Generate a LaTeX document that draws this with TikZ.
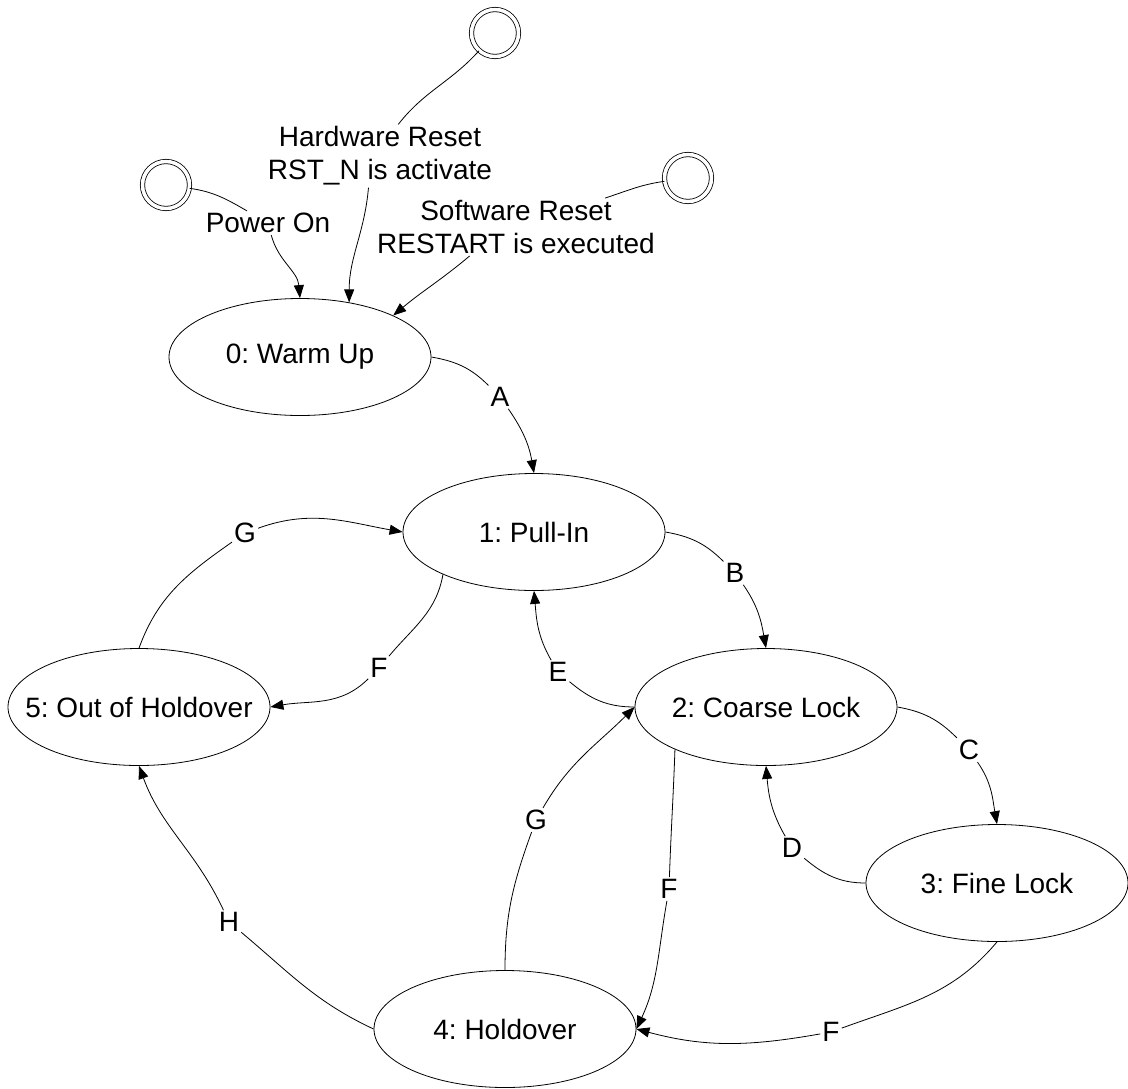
\documentclass[tikz,border=0pt]{standalone}
\usepackage{fontspec}
\setmainfont{Liberation Sans}
\frenchspacing
\usetikzlibrary{shapes.geometric,arrows.meta}
\tikzset{
    stnode/.style={ellipse, draw, line width=0.8pt, minimum width=262pt, minimum height=117pt, inner xsep=-30pt, inner ysep=0pt},
    src/.style={circle, draw, double, double distance=3.5pt, line width=0.8pt, minimum size=47pt, inner sep=0pt},
    lbl/.style={inner sep=2pt, align=center},
    tr/.style={line width=0.8pt},
    trarr/.style={tr, -{Triangle[length=13pt,width=10pt]}}
}

\begin{document}
\begin{tikzpicture}[x=1pt, y=1pt, every node/.append style={font=\fontsize{28}{33}\selectfont}]
    \useasboundingbox (0,0) rectangle (1128,-1088);
    \node[stnode] (warm) at (300,-357) {0: Warm Up};
    \node[stnode] (pull) at (534,-532) {1: Pull-In};
    \node[stnode] (coarse) at (766,-707) {2: Coarse Lock};
    \node[stnode] (fine) at (997,-883) {3: Fine Lock};
    \node[stnode] (hold) at (505,-1029) {4: Holdover};
    \node[stnode] (ooh) at (139,-707) {5: Out of Holdover};
    \node[src] (pwr) at (166,-185) {};
    \node[src] (hwr) at (495,-33) {};
    \node[src] (swr) at (688,-178) {};

    \node[lbl] (lpwr) at (268,-223) {Power On};
    \node[lbl] (lhwr) at (380,-156) {Hardware Reset\\RST\_N is activate};
    \node[lbl] (lswr) at (516,-227) {Software Reset\\RESTART is executed};
    \node[lbl] (lA) at (500,-397) {A};
    \node[lbl] (lB) at (735,-573) {B};
    \node[lbl] (lC) at (969,-750) {C};
    \node[lbl] (lD) at (792,-848) {D};
    \node[lbl] (lE) at (558,-672) {E};
    \node[lbl] (lF1) at (379,-668) {F};
    \node[lbl] (lG1) at (245,-533) {G};
    \node[lbl] (lG2) at (536,-820) {G};
    \node[lbl] (lF2) at (669,-889) {F};
    \node[lbl] (lF3) at (831,-1032) {F};
    \node[lbl] (lH) at (229,-922) {H};

    \draw[tr] (pwr) to[out=-8,in=150] (lpwr);
    \draw[trarr] (lpwr) to[out=-75,in=95] (warm.north);
    \draw[tr] (hwr) to[out=-132,in=52] (lhwr.60);
    \draw[trarr] (lhwr.-110) to[out=-95,in=90] (warm.48);
    \draw[tr] (swr) to[out=188,in=18] (lswr);
    \draw[trarr] (lswr.212) to[out=-140,in=40] (warm.24);

    \draw[tr] (warm.east) to[out=-10,in=135] (lA);
    \draw[trarr] (lA) to[out=-55,in=100] (pull.north);
    \draw[tr] (pull.east) to[out=-10,in=135] (lB);
    \draw[trarr] (lB) to[out=-55,in=100] (coarse.north);
    \draw[tr] (coarse.east) to[out=-10,in=135] (lC);
    \draw[trarr] (lC) to[out=-55,in=100] (fine.north);
    \draw[tr] (fine.west) to[out=180,in=-40] (lD);
    \draw[trarr] (lD) to[out=120,in=-85] (coarse.south);
    \draw[tr] (coarse.west) to[out=180,in=-40] (lE);
    \draw[trarr] (lE) to[out=120,in=-85] (pull.south);
    \draw[tr] (pull.205) to[out=-100,in=50] (lF1);
    \draw[trarr] (lF1) to[out=-135,in=10] (ooh.east);
    \draw[tr] (ooh.north) to[out=70,in=-145] (lG1);
    \draw[trarr] (lG1) to[out=20,in=170] (pull.west);
    \draw[tr] (coarse.205) to[out=-92,in=88] (lF2);
    \draw[trarr] (lF2) to[out=-100,in=65] (hold.east);
    \draw[tr] (hold.north) to[out=90,in=-110] (lG2);
    \draw[trarr] (lG2) to[out=60,in=-135] (coarse.west);
    \draw[tr] (fine.south) to[out=-130,in=20] (lF3);
    \draw[trarr] (lF3) to[out=190,in=-15] (hold.east);
    \draw[tr] (hold.west) to[out=155,in=-40] (lH);
    \draw[trarr] (lH) to[out=115,in=-70] (ooh.south);
\end{tikzpicture}
\end{document}
